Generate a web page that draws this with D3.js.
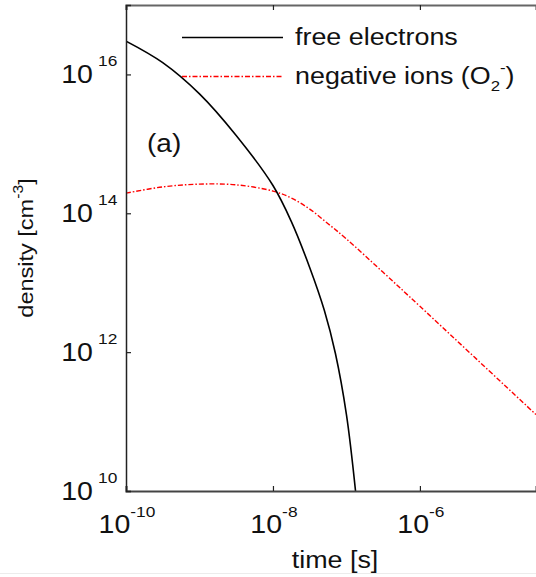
<!DOCTYPE html>
<html><head><meta charset="utf-8">
<script src="https://cdn.jsdelivr.net/npm/d3@7"></script>
<style>body{margin:0;background:#fff;} svg{display:block;}</style>
</head><body>
<svg id="c" width="536" height="577"></svg>
<script>
// ---- data ----
const electronTime    = [1e-10, 3.16e-10, 1e-9, 3.16e-9, 1e-8, 1.78e-8, 3.16e-8, 5.01e-8, 7.08e-8, 1e-7, 1.33e-7];
const electronDensity = [3.02e16, 1.48e16, 5.25e15, 1.32e15, 2.51e14, 7.59e13, 1.66e13, 3.98e12, 9.55e11, 1.26e11, 1.0e10];
const ionTime    = [1e-10, 3.16e-10, 1e-9, 3.16e-9, 1e-8, 1.78e-8, 3.16e-8, 5.62e-8, 1e-7, 3.16e-7, 1e-6, 3.8e-5];
const ionDensity = [1.95e14, 2.40e14, 2.63e14, 2.57e14, 2.09e14, 1.66e14, 1.15e14, 7.08e13, 4.27e13, 1.41e13, 4.57e12, 1.26e11];
const xTicks = [1e-10, 1e-8, 1e-6];
const xTickExp = ["-10", "-8", "-6"];
const yTicks = [1e10, 1e12, 1e14, 1e16];
const yTickExp = ["10", "12", "14", "16"];
const legendLabels = ["free electrons", "negative ions (O", "2", "-", ")"];

const svg = d3.select("#c");
const L = 126, T = 5, R = 536, B = 491;
const x = d3.scaleLog().domain([1e-10, 3.8e-5]).range([L, R]);
const y = d3.scaleLog().domain([1e10, 1e17]).range([B, T]);
const FONT = "Liberation Sans, Arial, Helvetica, sans-serif";
const SX = 1.12;

svg.append("defs").append("clipPath").attr("id","clip")
  .append("rect").attr("x",L).attr("y",T).attr("width",R-L).attr("height",B-T);

// curves
const line = (ts, ns) => d3.line().x((d,i)=>x(ts[i])).y((d,i)=>y(ns[i]))
  .curve(d3.curveCatmullRom.alpha(0.5))(ts);
svg.append("path").attr("clip-path","url(#clip)")
  .attr("d", line(ionTime, ionDensity))
  .attr("fill","none").attr("stroke","#ff0000").attr("stroke-width",1.4)
  .attr("stroke-dasharray","5,2,1.5,2");
svg.append("path").attr("clip-path","url(#clip)")
  .attr("d", line(electronTime, electronDensity))
  .attr("fill","none").attr("stroke","#000").attr("stroke-width",1.6);

// axes
const xb = svg.append("g").attr("transform",`translate(0,${B})`)
  .call(d3.axisBottom(x).tickValues(xTicks).tickSize(-5).tickFormat(""));
const xt = svg.append("g").attr("transform",`translate(0,${T})`)
  .call(d3.axisTop(x).tickValues(xTicks).tickSize(-5).tickFormat(""));
const yl = svg.append("g").attr("transform",`translate(${L},0)`)
  .call(d3.axisLeft(y).tickValues(yTicks).tickSize(-5).tickFormat(""));
[xb, xt, yl].forEach(g => {
  g.select(".domain").attr("stroke","#222").attr("stroke-width",1.5);
  g.selectAll(".tick line").attr("stroke","#222").attr("stroke-width",1.2);
});
xt.select(".domain").attr("stroke","#666").attr("stroke-width",2.2);
xb.select(".domain").attr("stroke","#444").attr("stroke-width",2);

function stext(px, py, anchor, parts, rot) {
  const t = svg.append("text")
    .attr("transform", `translate(${px},${py})` + (rot ? ` rotate(${rot})` : "") + ` scale(${SX},1)`)
    .attr("text-anchor", anchor).attr("font-family", FONT).attr("fill","#111");
  parts.forEach(p => {
    const s = t.append("tspan").text(p.t).attr("font-size", p.fs);
    if (p.dy) s.attr("dy", p.dy);
  });
  return t;
}

// x tick labels
xTicks.forEach((v,i) => {
  stext(x(v) + 1, 533, "middle", [{t:"10", fs:25.5}, {t:xTickExp[i], fs:15.5, dy:-16}]);
});
// y tick labels
yTicks.forEach((v,i) => {
  stext(93, y(v)+9, "end", [{t:"10", fs:25.5}]);
  stext(98, y(v)-8, "start", [{t:yTickExp[i], fs:15.5}]);
});

// axis titles
stext(335, 568, "middle", [{t:"time [s]", fs:24}]);
stext(33, 248, "middle", [{t:"density [cm", fs:21}, {t:"-3", fs:14, dy:-10}, {t:"]", fs:21, dy:10}], -90);

// annotation
stext(147, 152, "start", [{t:"(a)", fs:25}]);

// legend
svg.append("line").attr("x1",182).attr("x2",283).attr("y1",37.5).attr("y2",37.5)
  .attr("stroke","#000").attr("stroke-width",1.6);
svg.append("line").attr("x1",182).attr("x2",283).attr("y1",76.5).attr("y2",76.5)
  .attr("stroke","#ff0000").attr("stroke-width",1.4).attr("stroke-dasharray","5,2,1.5,2");
stext(295, 45, "start", [{t:legendLabels[0], fs:24}]);
stext(295, 84, "start", [{t:legendLabels[1], fs:24}, {t:legendLabels[2], fs:15, dy:7}, {t:legendLabels[3], fs:15, dy:-18}, {t:legendLabels[4], fs:24, dy:11}]);

// faint bottom border of the screenshot
svg.append("line").attr("x1",0).attr("x2",536).attr("y1",573.5).attr("y2",573.5).attr("stroke","#ececec");
</script>
</body></html>
